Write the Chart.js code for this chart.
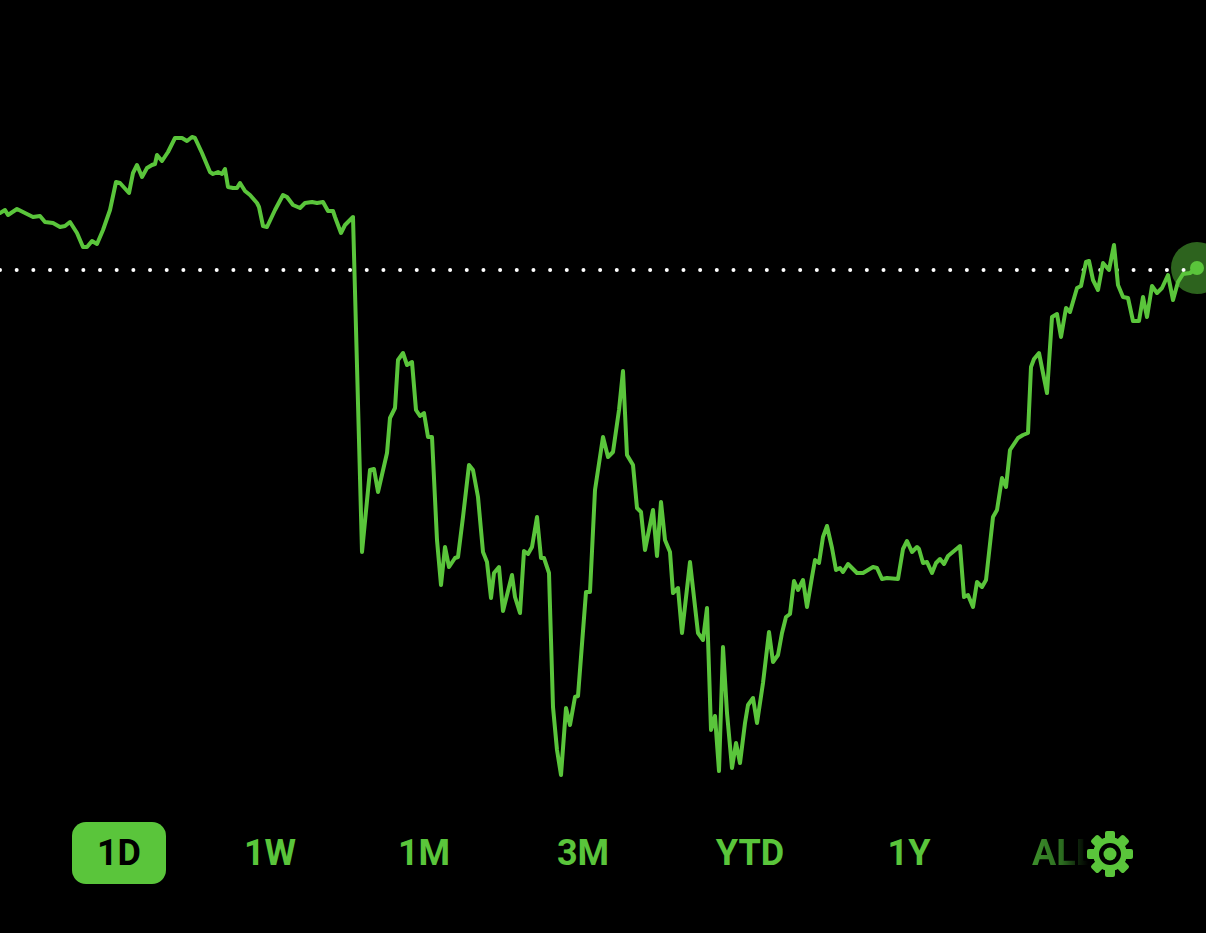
<!DOCTYPE html>
<html>
<head>
<meta charset="utf-8">
<script src="https://cdn.jsdelivr.net/npm/chart.js@4.4.1/dist/chart.umd.min.js"></script>
<style>
  html, body { margin:0; padding:0; background:#000; width:1206px; height:933px; overflow:hidden; }
  #wrap { position:absolute; left:0; top:0; width:1206px; height:800px; }
  .rng { position:absolute; top:853px; transform:translate(-50%,-50%); font-family:Roboto, "DejaVu Sans", sans-serif; font-weight:700; font-size:36px; color:#5ac53b; line-height:1; white-space:nowrap; }
  #sel { position:absolute; left:72px; top:822px; width:94px; height:62px; border-radius:14px; background:#5ac53b; }
  #all { position:absolute; left:1032px; top:853px; transform:translateY(-50%); font-family:Roboto, sans-serif; font-weight:700; font-size:36px; line-height:1;
         background:linear-gradient(90deg, #3d8f2b 0px, #2c6c20 30px, #0b1c08 48px, #000 56px); -webkit-background-clip:text; background-clip:text; color:transparent; }
  #gear { position:absolute; left:1086px; top:830px; width:48px; height:48px; }
</style>
</head>
<body>
<div id="wrap"><canvas id="c"></canvas></div>
<div id="sel"></div>
<div class="rng" style="left:119px;color:#000;">1D</div>
<div class="rng" style="left:270px;">1W</div>
<div class="rng" style="left:424px;">1M</div>
<div class="rng" style="left:583px;">3M</div>
<div class="rng" style="left:750px;">YTD</div>
<div class="rng" style="left:909px;">1Y</div>
<div id="all">ALL</div>
<svg id="gear" viewBox="-24 -24 48 48">
  <g fill="#5ac53b">
    <circle r="17"/>
    <rect x="-5" y="-23" width="10" height="10" rx="2"/>
    <rect x="-5" y="-23" width="10" height="10" rx="2" transform="rotate(45)"/>
    <rect x="-5" y="-23" width="10" height="10" rx="2" transform="rotate(90)"/>
    <rect x="-5" y="-23" width="10" height="10" rx="2" transform="rotate(135)"/>
    <rect x="-5" y="-23" width="10" height="10" rx="2" transform="rotate(180)"/>
    <rect x="-5" y="-23" width="10" height="10" rx="2" transform="rotate(225)"/>
    <rect x="-5" y="-23" width="10" height="10" rx="2" transform="rotate(270)"/>
    <rect x="-5" y="-23" width="10" height="10" rx="2" transform="rotate(315)"/>
  </g>
  <circle r="11" fill="#000"/>
  <circle r="6.5" fill="#5ac53b"/>
</svg>
<script>
// sample index (20-second steps through the session)
const times = [
  0,5,8,17,27,33,40,45,53,60, 65,70,77,83,87,92,97,103,110,116,
  120,129,133,137,142,147,152,155,157,162, 168,175,182,187,192,195,202,210,213,218,
  222,225,228,233,237,240,245,250,257,259, 263,267,275,283,287,293,300,305,312,317,
  323,328,333,335,341,345,353,
  362,370,374,378,387,390,395,398,403,407, 412,416,420,424,428,432,437,441,445,449,
  455,458,463,469,473,478,483,487,491,494, 499,503,512,515,520,524,528,532,537,541,
  544,549,553,557,561,566,570,575,578,586, 590,595,603,608,613,619,623,627,633,637,
  641,645,653,657,661,665,670,673,678,682, 690,698,703,707,711,715,719,723,727,732,736,
  740,745,748,753,757,763,769,773,778,782, 786,790,794,798,803,807,812,815,819,823,
  827,832,836,840,843,848,857,863,873,877, 882,887,898,903,907,912,917,919,923,927,
  932,936,940,944,948,960,964,968,973,977, 982,986,993,997,
  1002,1006,1010,1018,1023,1028,1031,1034,1039,1047, 1052,1057,1061,1066,1070,1077,1081,1086,1089,1093,
  1098,1103,1109,1114,1118,1123,1128,1133,1139,1143, 1147,1152,1157,1162,1168,1173,1178,1183,1190,1197
];
const prices = [
  101.14,101.20,101.10,101.22,101.12,101.06,101.08,100.96,100.94,100.86, 100.88,100.96,100.74,100.46,100.46,100.58,100.52,100.80,101.20,101.76,
  101.74,101.54,101.94,102.10,101.86,102.04,102.10,102.12,102.30,102.18, 102.36,102.64,102.64,102.58,102.66,102.64,102.34,101.96,101.92,101.96,
  101.92,102.02,101.66,101.64,101.64,101.74,101.58,101.50,101.34,101.26, 100.88,100.86,101.20,101.50,101.46,101.30,101.24,101.34,101.36,101.34,
  101.36,101.18,101.18,101.06,100.74,100.90,101.06,
  94.36,96.00,96.02,95.56,96.34,97.04,97.24,98.20,98.34,98.10, 98.16,97.20,97.08,97.14,96.66,96.66,94.60,93.70,94.46,94.06,
  94.24,94.26,95.06,96.10,96.00,95.46,94.36,94.16,93.44,93.94, 94.06,93.18,93.90,93.46,93.14,94.38,94.32,94.46,95.06,94.24,
  94.24,93.94,91.26,90.40,89.90,91.24,90.90,91.46,91.48,93.56, 93.56,95.60,96.66,96.26,96.36,97.20,97.98,96.30,96.10,95.24,
  95.16,94.40,95.20,94.28,95.36,94.60,94.36,93.54,93.64,92.74, 94.16,92.74,92.60,93.24,90.80,91.08,89.98,92.46,91.14,90.04,90.54,
  90.14,90.94,91.30,91.44,90.94,91.74,92.76,92.16,92.30,92.74, 93.06,93.12,93.78,93.60,93.80,93.26,93.86,94.20,94.14,94.66,
  94.88,94.44,94.00,94.04,93.96,94.12,93.94,93.94,94.06,94.04, 93.82,93.84,93.82,94.42,94.58,94.36,94.46,94.42,94.14,94.16,
  93.94,94.14,94.22,94.12,94.28,94.48,93.46,93.50,93.26,93.76, 93.66,93.80,95.06,95.20,
  95.84,95.66,96.40,96.64,96.70,96.74,98.06,98.22,98.34,97.54, 99.06,99.12,98.66,99.24,99.16,99.64,99.68,100.16,100.18,99.80,
  99.60,100.14,100.00,100.50,99.70,99.46,99.44,98.98,98.98,99.46, 99.06,99.68,99.54,99.64,99.90,99.40,99.76,99.92,99.94,100.04
];
const previousClose = 100.00;
const ranges = ["1D","1W","1M","3M","YTD","1Y","ALL"];

const GREEN = '#5ac53b';
const series = times.map((t, i) => ({ x: t, y: prices[i] }));
const last = series.length - 1;

new Chart(document.getElementById('c'), {
  type: 'line',
  data: {
    datasets: [
      {
        data: series,
        borderColor: GREEN,
        borderWidth: 4,
        borderJoinStyle: 'round',
        borderCapStyle: 'round',
        tension: 0,
        pointRadius: ctx => ctx.dataIndex === last ? 7 : 0,
        pointBackgroundColor: GREEN,
        pointBorderWidth: 0,
        clip: false
      },
      {
        data: [{ x: 0, y: previousClose }, { x: 1206, y: previousClose }],
        borderColor: '#ffffff',
        borderWidth: 4,
        borderDash: [0, 16.67],
        borderCapStyle: 'round',
        pointRadius: 0,
        clip: false
      },
      {
        data: [series[last]],
        showLine: false,
        pointRadius: 26,
        pointBackgroundColor: 'rgba(90,197,59,0.5)',
        pointBorderWidth: 0,
        clip: false
      }
    ]
  },
  options: {
    responsive: true,
    maintainAspectRatio: false,
    animation: false,
    layout: { padding: 0, autoPadding: false },
    plugins: { legend: { display: false }, tooltip: { enabled: false } },
    events: [],
    scales: {
      x: { type: 'linear', min: 0, max: 1206, display: false },
      y: { type: 'linear', min: 89.40, max: 105.40, display: false }
    }
  }
});
</script>
</body>
</html>
